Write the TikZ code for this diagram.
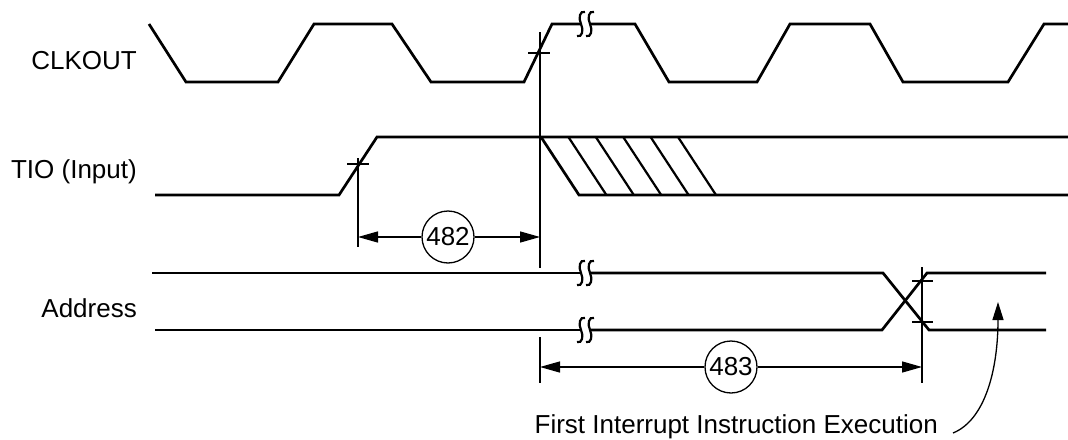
\documentclass[tikz,border=0pt]{standalone}
\usepackage{fontspec}
\setmainfont{Liberation Sans}
\usetikzlibrary{arrows.meta}

\tikzset{
  sig/.style={line width=2.7pt, line join=miter},
  guide/.style={line width=1.3pt},
  dim/.style={guide, -{Triangle[length=20pt,width=11pt]}},
  numcirc/.style={circle, draw, line width=1.3pt, minimum size=52pt, inner sep=0pt, font=\fontsize{26}{30}\selectfont},
  lbl/.style={anchor=base east, inner sep=0pt, font=\fontsize{26}{30}\selectfont}
}

% break mark: two S shaped strokes around (#1,#2)
\newcommand\brkmark[2]{%
  \foreach \dx in {0,9}{
    \draw[line width=2.2pt] ({#1+\dx+4},{#2-12}) .. controls ({#1+\dx-1},{#2-14}) and ({#1+\dx-3},{#2-6}) .. ({#1+\dx},{#2})
      .. controls ({#1+\dx+3},{#2+6}) and ({#1+\dx+1},{#2+14}) .. ({#1+\dx-4},{#2+12});
  }%
}

\begin{document}
\begin{tikzpicture}[x=1pt,y=-1pt]
\useasboundingbox (0,0) rectangle (1068,439);

% labels
\node[lbl] (clk) at (137,69) {CLKOUT};
\node[lbl] (tio) at (137,178) {TIO (Input)};
\node[lbl] (adr) at (137,317) {Address};

% CLKOUT
\draw[sig] (149,24) -- (186,82) -- (278,82) -- (314,24) -- (392,24) -- (431,82) -- (524,82) -- (552,24) -- (581,24);
\draw[sig] (590,24) -- (635,24) -- (669,82) -- (757,82) -- (790,24) -- (870,24) -- (903,82) -- (1008,82) -- (1044,24) -- (1068,24);
\brkmark{581}{24}

% TIO
\draw[sig] (155,195) -- (339,195) -- (377,137) -- (1068,137);
\draw[sig] (541,137) -- (579,195) -- (1068,195);
\foreach \i in {1,...,5}
  \draw[line width=2.2pt] ({541+27.4*\i},137) -- ({579+27.4*\i},195);

% Address
\draw[sig] (152,273) -- (581,273);
\draw[sig] (590,273) -- (883,273) -- (929,330) -- (1046,330);
\draw[sig] (155,330) -- (581,330);
\draw[sig] (590,330) -- (882,330) -- (927,273) -- (1046,273);
\brkmark{581}{273}
\brkmark{581}{330}

% guide lines and ticks
\draw[guide] (540,32) -- (540,268);
\draw[guide] (528,53) -- (550,53);
\draw[guide] (358,158) -- (358,247);
\draw[guide] (347,164) -- (369,164);
\draw[guide] (540,337) -- (540,383);
\draw[guide] (922,267) -- (922,383);
\draw[guide] (912,281) -- (933,281);
\draw[guide] (912,322) -- (933,322);

% 482
\node[numcirc] (c482) at (448,237) {482};
\coordinate (l482) at (358,237);
\coordinate (r482) at (540,237);
\draw[dim] (c482) -- (l482);
\draw[dim] (c482) -- (r482);

% 483
\node[numcirc] (c483) at (731,367) {483};
\coordinate (l483) at (540,367);
\coordinate (r483) at (922,367);
\draw[dim] (c483) -- (l483);
\draw[dim] (c483) -- (r483);

% first instruction
\node[lbl] (fie) at (938,433) {First Interrupt Instruction Execution};
\coordinate (tip) at (998,302);
\draw[guide, -{Triangle[length=18pt,width=11pt]}] ([xshift=15pt]fie.base east) .. controls (985,420) and (998,370) .. (tip);
\end{tikzpicture}
\end{document}
